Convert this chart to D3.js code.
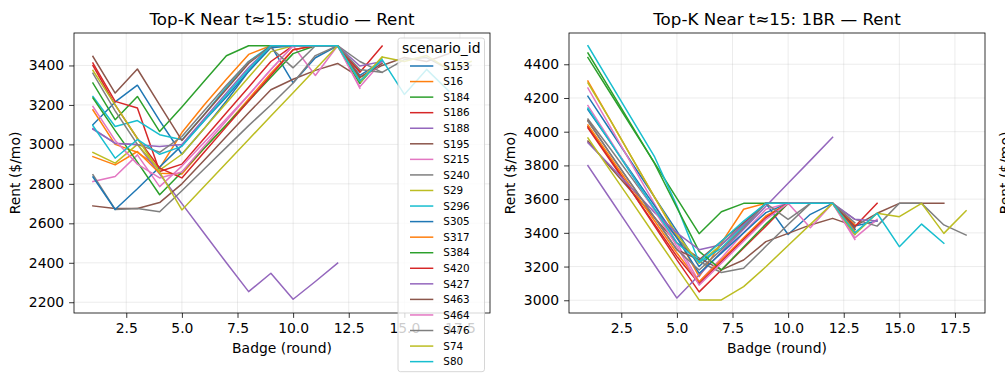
<!DOCTYPE html>
<html><head><meta charset="utf-8">
<script src="https://cdn.jsdelivr.net/npm/d3@7"></script>
<style>body{margin:0;background:#fff} svg{display:block} text{font-family:"DejaVu Sans",sans-serif;fill:#000}</style>
</head><body><svg id="c" width="1005" height="382"></svg>
<script>
const scenarioIds = ["S153","S16","S184","S186","S188","S195","S215","S240","S29","S296","S305","S317","S384","S420","S427","S463","S464","S476","S74","S80"];
const palette = ["#1f77b4","#ff7f0e","#2ca02c","#d62728","#9467bd","#8c564b","#e377c2","#7f7f7f","#bcbd22","#17becf"];

// Rent by badge round 1..n, studio panel (order = scenarioIds)
const studioRent = [
  [3100,3215,3300,3120,2950,3080,3220,3370,3500,3312,3439,3500,3350,3420],
  [3175,3000,2960,2880,3060,3200,3330,3456,3500,3500,3500,3500,3370],
  [3311,3125,3243,3065,3190,3320,3449,3500,3500,3500,3500,3500,3310,3440],
  [3412,3218,3184,2863,2900,3030,3160,3290,3420,3500,3500,3500,3370],
  [3080,3005,3000,2850,2700,2550,2400,2254,2347,2215,2305,2398],
  [2688,2675,2675,2705,2800,2920,3040,3160,3277,3330,3375,3410,3340,3400,3440,3420,3460],
  [2812,2837,2947,2786,2890,3010,3130,3250,3380,3500,3349,3500,3292,3420],
  [2846,2670,2675,2659,2765,2875,2985,3095,3200,3311,3450,3500,3420,3365,3430,3440,3380,3400],
  [2959,2905,3000,2870,2950,3080,3210,3340,3470,3500,3500,3500,3312,3443],
  [3243,3091,3121,3049,3023,3150,3290,3420,3500,3500,3500,3500,3330],
  [2835,2670,2775,2885,2995,3120,3240,3370,3490,3500,3500,3500,3330],
  [2938,2896,2964,2854,2850,2980,3100,3230,3360,3480,3500,3500,3340],
  [3235,3070,2910,2745,2860,2980,3100,3220,3340,3460,3500,3500,3310],
  [3400,3200,3030,2880,2830,2960,3090,3220,3350,3480,3500,3500,3366,3498],
  [3077,3006,2998,2989,3000,3130,3260,3390,3500,3500,3500,3500,3397,3420],
  [3446,3260,3382,3200,3020,3150,3280,3410,3500,3500,3500,3500,3340,3410],
  [3192,3020,2900,2830,2860,2990,3120,3250,3380,3500,3500,3500,3285],
  [3360,3170,3000,2960,3040,3170,3300,3420,3490,3388,3500,3500,3380,3365],
  [3375,3200,3030,2860,2668,2787,2906,3025,3144,3262,3381,3500,3320,3443,3420,3450,3380,3420],
  [3095,2930,3025,2950,2990,3120,3250,3380,3500,3500,3500,3500,3320,3430,3253,3380,3270]
];

// Rent by badge round 1..n, 1BR panel (order = scenarioIds)
const oneBrRent = [
  [4210,4010,3810,3610,3410,3200,3330,3450,3575,3390,3510,3575,3440,3470],
  [4300,4070,3840,3610,3380,3140,3340,3540,3575,3575,3575,3575,3450],
  [4440,4231,4022,3813,3604,3395,3525,3575,3575,3575,3575,3575,3400],
  [4030,3840,3640,3440,3240,3050,3180,3310,3440,3575,3575,3575,3420],
  [3799,3602,3406,3209,3013,3150,3286,3422,3558,3694,3830,3967],
  [3945,3790,3640,3490,3340,3250,3180,3239,3348,3397,3447,3486,3440,3516,3575,3575,3575],
  [4259,4030,3800,3570,3340,3110,3250,3400,3540,3575,3430,3575,3370,3480],
  [4075,3900,3720,3540,3370,3230,3165,3190,3320,3450,3575,3575,3480,3440,3575,3575,3447,3387],
  [4289,4070,3840,3610,3390,3220,3330,3450,3575,3575,3575,3575,3400],
  [4510,4290,4070,3850,3560,3225,3310,3440,3575,3575,3575,3575,3420],
  [4130,3940,3750,3560,3370,3160,3280,3400,3520,3575,3575,3575,3420],
  [4040,3850,3660,3470,3280,3110,3240,3370,3500,3575,3575,3575,3410],
  [4467,4250,4030,3810,3550,3290,3180,3316,3452,3575,3575,3575,3390],
  [4022,3830,3640,3450,3260,3100,3230,3360,3490,3575,3575,3575,3437,3575],
  [3935,3800,3660,3520,3400,3300,3330,3450,3575,3575,3575,3575,3480,3470],
  [4065,3870,3680,3490,3300,3240,3350,3460,3575,3575,3575,3575,3430],
  [4155,3950,3740,3530,3320,3090,3220,3350,3480,3575,3575,3575,3360],
  [4062,3870,3680,3490,3300,3180,3300,3430,3575,3480,3575,3575,3460],
  [3963,3771,3579,3386,3194,3002,3002,3081,3199,3325,3450,3575,3390,3516,3496,3575,3397,3531],
  [4140,3940,3740,3540,3340,3230,3350,3470,3575,3575,3575,3575,3400,3516,3318,3452,3338]
];

const xTicks = [2.5,5.0,7.5,10.0,12.5,15.0,17.5];
const studioYTicks = [2200,2400,2600,2800,3000,3200,3400];
const oneBrYTicks = [3000,3200,3400,3600,3800,4000,4200,4400];
const titles = ["Top-K Near t\u224815: studio \u2014 Rent","Top-K Near t\u224815: 1BR \u2014 Rent"];

const svg = d3.select("#c");
const TOP = 33, BOT = 313, W = 416;

function panel(left, values, yDom, yTicks, title) {
  const x = d3.scaleLinear().domain([0.15, 18.85]).range([left, left + W]);
  const y = d3.scaleLinear().domain(yDom).range([BOT, TOP]);
  const g = svg.append("g");
  // grid
  g.append("g").selectAll("line").data(xTicks).join("line")
    .attr("x1", d => x(d)).attr("x2", d => x(d)).attr("y1", TOP).attr("y2", BOT)
    .attr("stroke", "#b0b0b0").attr("stroke-opacity", 0.3).attr("stroke-width", 0.8);
  g.append("g").selectAll("line").data(yTicks).join("line")
    .attr("y1", d => y(d)).attr("y2", d => y(d)).attr("x1", left).attr("x2", left + W)
    .attr("stroke", "#b0b0b0").attr("stroke-opacity", 0.3).attr("stroke-width", 0.8);
  // lines
  const line = d3.line().x((d, i) => x(i + 1)).y(d => y(d));
  g.append("g").selectAll("path").data(values).join("path")
    .attr("d", line).attr("fill", "none")
    .attr("stroke", (d, i) => palette[i % 10]).attr("stroke-width", 1.5)
    .attr("stroke-linejoin", "round").attr("stroke-linecap", "square");
  // axes
  const xa = g.append("g").attr("transform", `translate(0,${BOT})`)
    .call(d3.axisBottom(x).tickValues(xTicks).tickFormat(d3.format(".1f")).tickSize(4.9).tickPadding(4.9));
  const ya = g.append("g").attr("transform", `translate(${left},0)`)
    .call(d3.axisLeft(y).tickValues(yTicks).tickFormat(d3.format("d")).tickSize(4.9).tickPadding(4.9));
  [xa, ya].forEach(a => {
    a.select(".domain").remove();
    a.selectAll(".tick line").attr("stroke", "#000").attr("stroke-width", 0.8);
    a.selectAll(".tick text").attr("font-size", "13.9px").attr("font-family", "DejaVu Sans").attr("fill", "#000");
  });
  xa.selectAll(".tick text").attr("dy", "0.76em");
  g.append("rect").attr("x", left).attr("y", TOP).attr("width", W).attr("height", BOT - TOP)
    .attr("fill", "none").attr("stroke", "#000").attr("stroke-width", 0.8);
  // labels
  g.append("text").attr("x", left + W / 2).attr("y", 24.7).attr("text-anchor", "middle")
    .attr("font-size", "16.7px").text(title);
  g.append("text").attr("x", left + W / 2).attr("y", 352.5).attr("text-anchor", "middle")
    .attr("font-size", "13.9px").text("Badge (round)");
  g.append("text").attr("transform", `translate(${left - 54},${(TOP + BOT) / 2}) rotate(-90)`)
    .attr("text-anchor", "middle").attr("font-size", "13.9px").text("Rent ($/mo)");
}

panel(74, studioRent, [2145.5, 3564.5], studioYTicks, titles[0]);
panel(569, oneBrRent, [2924.5, 4585.5], oneBrYTicks, titles[1]);

// partial y label of a third panel cut at the right edge
svg.append("text").attr("transform", `translate(1010,173) rotate(-90)`)
  .attr("text-anchor", "middle").attr("font-size", "13.9px").text("Rent ($/mo)");

// legend (studio panel)
const lg = svg.append("g");
const LX = 398, LR = 484.5, LT = 38, LB = 371.7;
lg.append("rect").attr("x", LX).attr("y", LT).attr("width", LR - LX).attr("height", LB - LT)
  .attr("rx", 2.5).attr("fill", "#fff").attr("fill-opacity", 0.8)
  .attr("stroke", "#cccccc").attr("stroke-width", 0.8);
lg.append("text").attr("x", (LX + LR) / 2).attr("y", 48.3).attr("dy", "0.36em")
  .attr("text-anchor", "middle").attr("font-size", "13.9px").text("scenario_id");
const rows = lg.selectAll("g.row").data(scenarioIds).join("g").attr("class", "row")
  .attr("transform", (d, i) => `translate(0,${66 + i * 15.56})`);
rows.append("line").attr("x1", 410).attr("x2", 433.3).attr("y1", 0).attr("y2", 0)
  .attr("stroke", (d, i) => palette[i % 10]).attr("stroke-width", 1.5);
rows.append("text").attr("x", 443.3).attr("dy", "0.36em").attr("font-size", "10.4px").text(d => d);
</script></body></html>
